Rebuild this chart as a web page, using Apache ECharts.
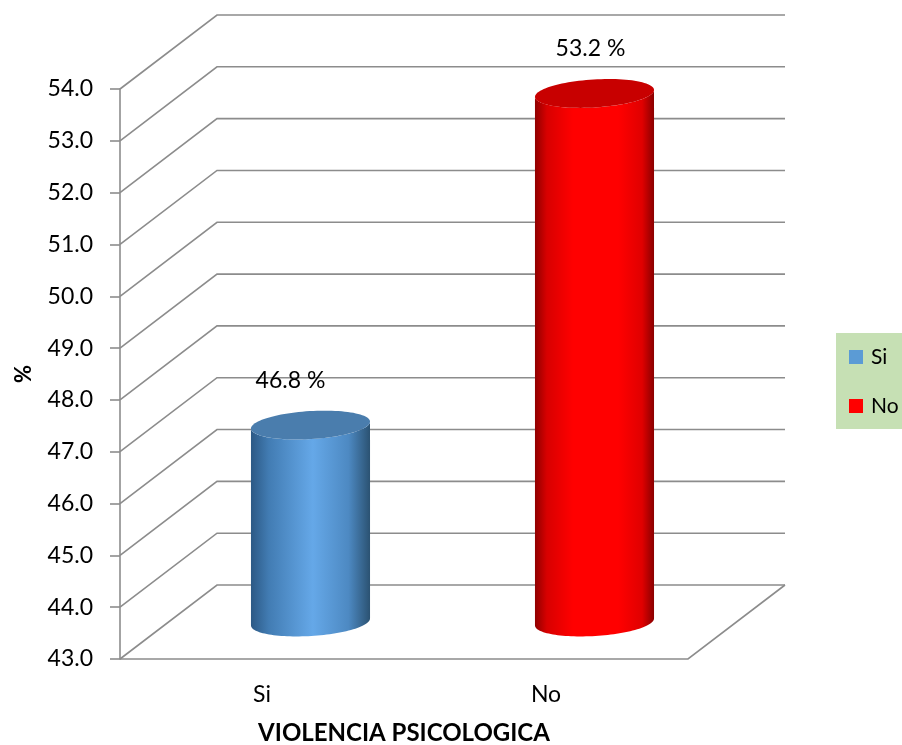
<!DOCTYPE html>
<html>
<head>
<meta charset="utf-8">
<script src="https://cdn.jsdelivr.net/npm/echarts@6/dist/echarts.min.js"></script>
<style>
  html, body { margin: 0; padding: 0; background: #ffffff; }
  #chart { width: 902px; height: 745px; }
</style>
</head>
<body>
<div id="chart"></div>
<script>
// Categories and values (percentages)
const categories = ['Si', 'No'];
const valuesSi = [46.8];
const valuesNo = [53.2];
// Value axis ticks
const yTicks = [43, 44, 45, 46, 47, 48, 49, 50, 51, 52, 53, 54];
const yMin = 43, yMax = 54, yStep = 1;

// Oblique depth of the 3D box (pixels)
const DEPTH_X = 97, DEPTH_Y = -74;
const GRID_COLOR = '#8c8c8c';
const FONT = 'Lato';

// point on a rotated ellipse at parameter t
function ellipsePoint(cx, cy, rx, ry, rot, t) {
  const c = Math.cos(rot), s = Math.sin(rot);
  const ex = rx * Math.cos(t), ey = ry * Math.sin(t);
  return [cx + ex * c - ey * s, cy + ex * s + ey * c];
}
function ellipseArc(cx, cy, rx, ry, rot, t0, t1, n) {
  const pts = [];
  for (let i = 0; i <= n; i++) {
    pts.push(ellipsePoint(cx, cy, rx, ry, rot, t0 + (t1 - t0) * i / n));
  }
  return pts;
}

// Box frame: side wall / back wall gridlines plus floor
function renderFrame(params, api) {
  const cs = params.coordSys;
  const v = api.value(1);
  const y = api.coord([0, v])[1];
  const left = cs.x, right = cs.x + cs.width;
  const children = [{
    type: 'polyline',
    shape: { points: [[left, y], [left + DEPTH_X, y + DEPTH_Y], [right + DEPTH_X, y + DEPTH_Y]] },
    style: { stroke: GRID_COLOR, lineWidth: 1.6, fill: null }
  }];
  if (v === yMin) {
    children.push({
      type: 'polyline',
      shape: { points: [[left, y], [right, y], [right + DEPTH_X, y + DEPTH_Y]] },
      style: { stroke: GRID_COLOR, lineWidth: 1.6, fill: null }
    });
  }
  return { type: 'group', children: children };
}

function makeCylinder(bodyStops, topColor, labelDx) {
  return function (params, api) {
    const idx = api.value(0);
    const val = api.value(1);
    const top = api.coord([idx, val]);
    const base = api.coord([idx, yMin]);
    const band = api.size([1, 0])[0];
    const cx = top[0] + DEPTH_X / 2;
    const cyTop = top[1] + DEPTH_Y / 2;
    const cyBase = base[1] + DEPTH_Y / 2;
    const rx = band * 0.21, ry = 14, rot = -3.5 * Math.PI / 180;
    // body: lower rim of the base (left -> right), then lower rim of the top (right -> left)
    const body = ellipseArc(cx, cyBase, rx, ry, rot, Math.PI, 0, 60)
      .concat(ellipseArc(cx, cyTop, rx, ry, rot, 0, Math.PI, 60));
    const topFace = ellipseArc(cx, cyTop, rx, ry, rot, 0, 2 * Math.PI, 100);
    return {
      type: 'group',
      children: [
        {
          type: 'polygon',
          shape: { points: body },
          style: {
            fill: new echarts.graphic.LinearGradient(0, 0, 1, 0, bodyStops),
            stroke: null
          }
        },
        {
          type: 'polygon',
          shape: { points: topFace },
          style: { fill: topColor, stroke: null }
        },
        {
          type: 'text',
          x: cx + labelDx,
          y: cyTop - 45,
          style: {
            text: val.toFixed(1) + ' %',
            fill: '#000000',
            font: '23px ' + FONT,
            align: 'center',
            verticalAlign: 'middle'
          }
        }
      ]
    };
  };
}

const chart = echarts.init(document.getElementById('chart'), null, { renderer: 'canvas' });

chart.setOption({
  backgroundColor: '#ffffff',
  animation: false,
  grid: { left: 120, right: 214, top: 89, bottom: 86, containLabel: false, outerBoundsMode: 'none' },
  legend: {
    orient: 'vertical',
    left: 836,
    top: 333,
    backgroundColor: '#c6e0b4',
    padding: [12, 40, 11, 13],
    itemWidth: 14,
    itemHeight: 14,
    itemGap: 25,
    icon: 'rect',
    textStyle: { fontFamily: FONT, fontSize: 21, color: '#000', lineHeight: 24, padding: [0, 0, 0, 3] },
    data: [
      { name: 'Si', itemStyle: { color: '#5b9bd5' } },
      { name: 'No', itemStyle: { color: '#ff0000' } }
    ]
  },
  xAxis: {
    type: 'category',
    data: categories,
    name: 'VIOLENCIA PSICOLOGICA',
    nameLocation: 'middle',
    nameGap: 62,
    nameTextStyle: { fontFamily: FONT, fontSize: 24, fontWeight: 'bold', color: '#000' },
    axisLine: { show: false },
    axisTick: { show: false },
    axisLabel: { margin: 24, fontFamily: FONT, fontSize: 23, color: '#000' },
    splitLine: { show: false }
  },
  yAxis: {
    type: 'value',
    min: yMin,
    max: yMax,
    interval: yStep,
    name: '%',
    nameLocation: 'middle',
    nameRotate: 90,
    nameGap: 85,
    nameTextStyle: { fontFamily: FONT, fontSize: 22, fontWeight: 'bold', color: '#000' },
    axisLine: { show: true, lineStyle: { color: GRID_COLOR, width: 1.6 } },
    axisTick: { show: true, length: 10, lineStyle: { color: GRID_COLOR, width: 1.6 } },
    axisLabel: { margin: 27, padding: [4, 0, 0, 0], fontFamily: FONT, fontSize: 23, color: '#000', formatter: v => v.toFixed(1) },
    splitLine: { show: false }
  },
  series: [
    {
      name: 'frame',
      type: 'custom',
      clip: false,
      silent: true,
      z: 1,
      renderItem: renderFrame,
      encode: { x: 0, y: 1 },
      data: yTicks.map(v => [0, v])
    },
    {
      name: 'Si',
      type: 'custom',
      clip: false,
      z: 3,
      itemStyle: { color: '#5b9bd5' },
      renderItem: makeCylinder([
        { offset: 0, color: '#2c5985' },
        { offset: 0.15, color: '#427cb3' },
        { offset: 0.52, color: '#65a8e8' },
        { offset: 0.82, color: '#4d89c2' },
        { offset: 1, color: '#2b5272' }
      ], '#4a7dad', -20),
      encode: { x: 0, y: 1 },
      data: valuesSi.map(v => [0, v])
    },
    {
      name: 'No',
      type: 'custom',
      clip: false,
      z: 3,
      itemStyle: { color: '#ff0000' },
      renderItem: makeCylinder([
        { offset: 0, color: '#900000' },
        { offset: 0.1, color: '#d80000' },
        { offset: 0.32, color: '#ff0000' },
        { offset: 0.7, color: '#ff0000' },
        { offset: 0.9, color: '#e00000' },
        { offset: 1, color: '#8a0000' }
      ], '#c80000', -4),
      encode: { x: 0, y: 1 },
      data: valuesNo.map(v => [1, v])
    }
  ]
});
</script>
</body>
</html>
